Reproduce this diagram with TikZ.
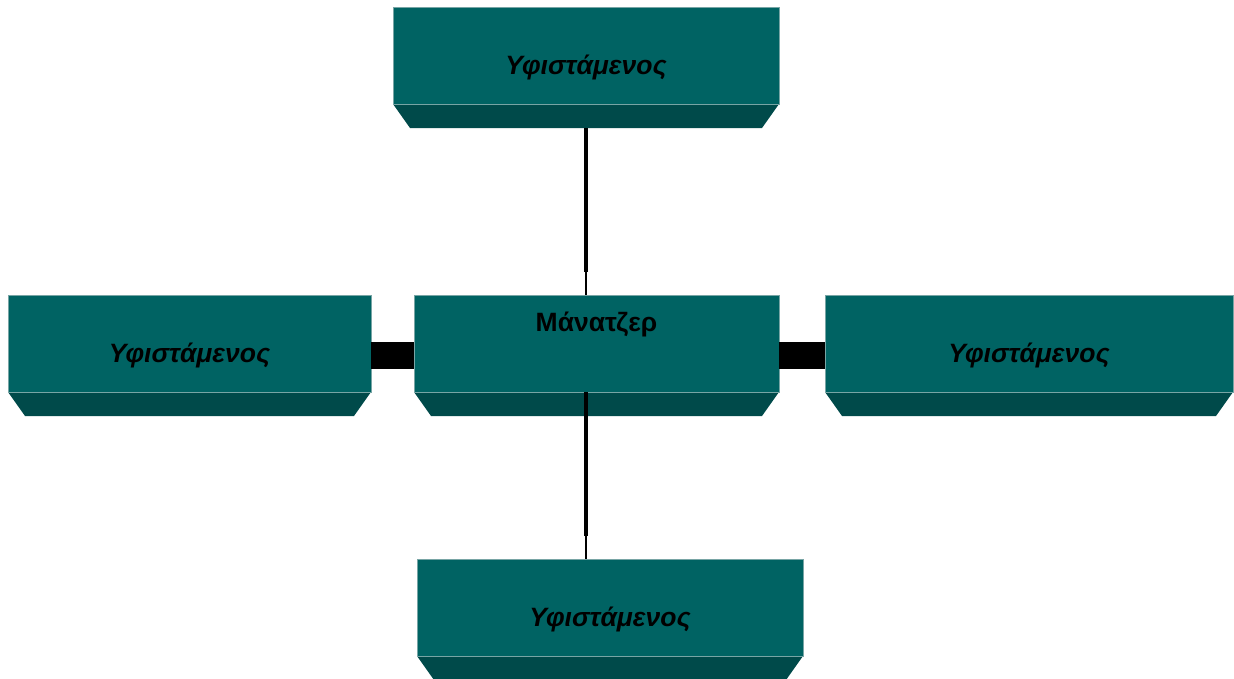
\documentclass[tikz,border=0pt]{standalone}
\usepackage{fontspec}
\setmainfont{Liberation Sans}
\usetikzlibrary{calc}
\definecolor{facecol}{RGB}{0,99,99}
\definecolor{bevelcol}{RGB}{0,74,74}
\definecolor{edgecol}{RGB}{120,165,165}
\pgfdeclarelayer{background}
\pgfsetlayers{background,main}
\begin{document}
\begin{tikzpicture}[x=1pt,y=-1pt,
  unit/.style={minimum width=#1, minimum height=121pt, inner sep=0pt, outer sep=0pt,
    font=\fontsize{26.5}{30}\selectfont\bfseries\itshape},
  link/.style={line width=27pt},
  stem/.style={line width=4pt},
  tail/.style={line width=1.6pt}]
\useasboundingbox (0,0) rectangle (1234,678);

% org chart units (face + bevel)
\node[unit=386pt] (top) at (586,67.5) {\raisebox{-4pt}{Υφιστάμενος}};
\node[unit=365pt, label={[anchor=center,yshift=-29pt,font=\fontsize{26.5}{30}\selectfont\bfseries]north:Μάνατζερ}] (mgr) at (596.5,355.5) {};
\node[unit=363pt] (lft) at (189.5,355.5) {\raisebox{-4pt}{Υφιστάμενος}};
\node[unit=408pt] (rgt) at (1029,355.5) {\raisebox{-4pt}{Υφιστάμενος}};
\node[unit=386pt] (bot) at (610,619.5) {\raisebox{-4pt}{Υφιστάμενος}};

% raised faces and bottom bevels
\begin{pgfonlayer}{background}
\foreach \n in {top,mgr,lft,rgt,bot}{
  \fill[bevelcol] ([yshift=24pt]\n.south west) -- ([yshift=24pt]\n.south east)
    -- ([xshift=-17pt]\n.south east) -- ([xshift=17pt]\n.south west) -- cycle;
  \filldraw[fill=facecol,draw=edgecol,line width=0.6pt]
    (\n.north west) rectangle ([yshift=24pt]\n.south east);
}
\end{pgfonlayer}

% connectors
\coordinate (tj) at (top.south |- mgr.north);
\coordinate (mj) at (top.south |- mgr.south);
\coordinate (bj) at (top.south |- bot.north);
\draw[stem] (top.south) -- ([yshift=23pt]tj);
\draw[tail] ([yshift=23pt]tj) -- (tj);
\draw[stem] ([yshift=24pt]mj) -- ([yshift=23pt]bj);
\draw[tail] ([yshift=23pt]bj) -- (bj);
\draw[link] (lft.east) -- (mgr.west);
\draw[link] (mgr.east) -- (rgt.west);
\end{tikzpicture}
\end{document}
